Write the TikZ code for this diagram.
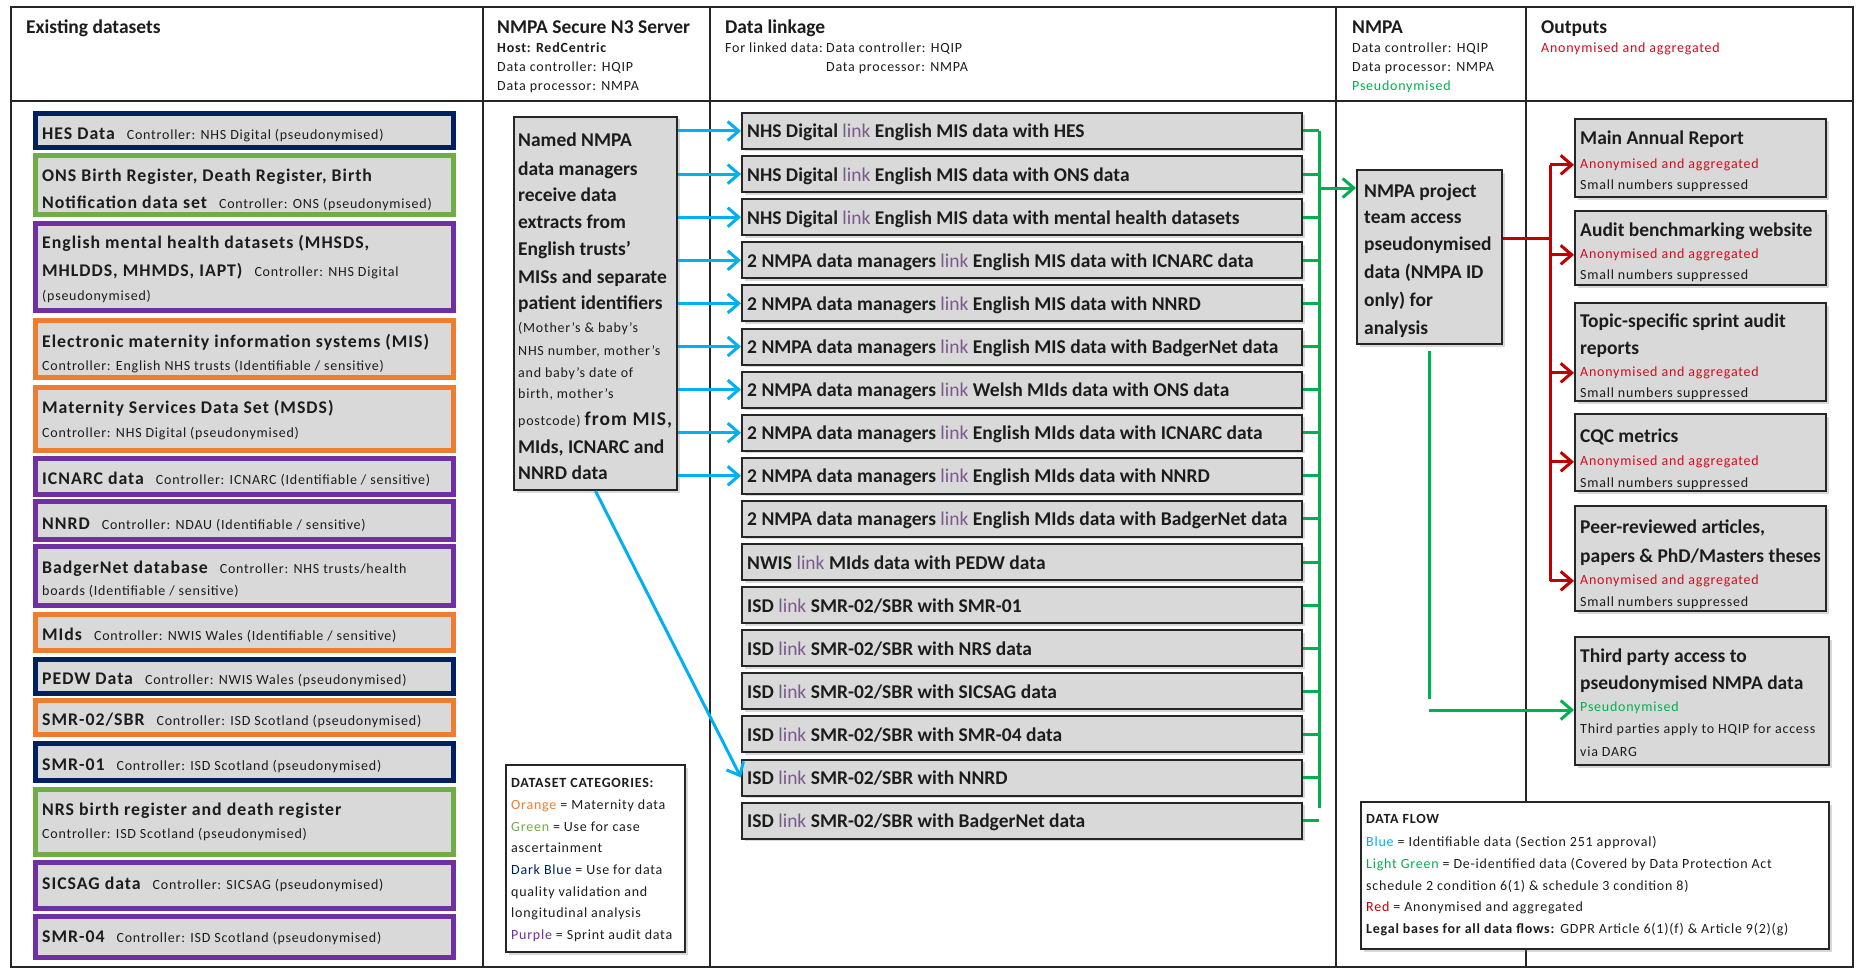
\documentclass[tikz,border=0pt]{standalone}
\usepackage{fontspec}
\setmainfont{Carlito}
\newfontfamily\smfam[LetterSpace=5.5]{Carlito}
\usetikzlibrary{arrows.meta,shadows,calc}
\definecolor{boxgrey}{HTML}{D9D9D9}
\definecolor{dsnavy}{HTML}{002060}
\definecolor{dsgreen}{HTML}{70AD47}
\definecolor{dspurple}{HTML}{7030A0}
\definecolor{dsorange}{HTML}{ED7D31}
\definecolor{flowblue}{HTML}{00B0F0}
\definecolor{flowgreen}{HTML}{00B050}
\definecolor{flowred}{HTML}{C00000}
\definecolor{outred}{HTML}{D40B1E}
\definecolor{txtc}{HTML}{1C1C1C}
\definecolor{linkc}{HTML}{7A5A8A}
\newcommand\fBig{\fontsize{19.5}{23}\selectfont}
\newcommand\fDs{\fontsize{17.8}{21}\selectfont}
\newcommand\fSm{\smfam\fontsize{14}{17}\selectfont}
\newcommand\TiT[1]{{\fDs\bfseries #1}}
\newcommand\BgT[1]{{\fBig\bfseries #1}}
\newcommand\SmT[1]{{\fSm #1}}
\newcommand\dsgap{\hspace{12pt}}
\newcommand\mylk{\textcolor{linkc}{\mdseries link}}
\newcommand\LinkBox[2]{%
  \node[gbox,minimum width=560pt,minimum height=36pt] (l#1) at (1022,{131+43.1*(#1-1)}) {};
  \node[bl] (l#1t) at ($(l#1.west)+(6,7)$) {#2};}
\begin{document}
\begin{tikzpicture}[x=1pt,y=-1pt,
  shd/.style={drop shadow={shadow xshift=2.5pt,shadow yshift=-2.5pt,opacity=0.3}},
  dsbox/.style={draw=#1,line width=5pt,fill=boxgrey,minimum width=418pt,inner sep=0pt,shd},
  gbox/.style={draw=black!85,line width=2pt,fill=boxgrey,inner sep=0pt,shd},
  wbox/.style={draw=black!85,line width=2pt,fill=white,inner sep=0pt,shd},
  ln/.style={anchor=base west,inner sep=0pt,text=txtc,font=\fSm},
  bl/.style={ln,font=\fBig\bfseries},
  frameline/.style={draw=black!85,line width=1.6pt},
  tipb/.style={-{Straight Barb[length=11pt,width=19pt]}},
  bluearr/.style={draw=flowblue,line width=3pt,tipb},
  greenln/.style={draw=flowgreen,line width=3pt},
  redln/.style={draw=flowred,line width=3pt}]
\fill[white] (0,0) rectangle (1863,971);
\useasboundingbox (0,0) rectangle (1863,971);
% frame
\draw[frameline] (11,7) rectangle (1853,967);
\draw[frameline] (11,101) -- (1853,101);
\foreach \xx in {483,710,1336,1526} \draw[frameline] (\xx,7) -- (\xx,967);
% headers
\node[bl] (h1) at (26,33.5) {Existing datasets};
\node[bl] (h2) at (497,33.5) {NMPA Secure N3 Server};
\node[ln] (h2a) at (497,52.5) {\bfseries Host: RedCentric};
\node[ln] (h2b) at (497,72) {Data controller: HQIP};
\node[ln] (h2c) at (497,91) {Data processor: NMPA};
\node[bl] (h3) at (725,33.5) {Data linkage};
\node[ln] (h3a) at (725,52.5) {For linked data:};
\node[ln] (h3c) at (826,52.5) {Data controller: HQIP};
\node[ln] (h3b) at (826,72) {Data processor: NMPA};
\node[bl] (h4) at (1352,33.5) {NMPA};
\node[ln] (h4a) at (1352,52.5) {Data controller: HQIP};
\node[ln] (h4b) at (1352,72) {Data processor: NMPA};
\node[ln,text=flowgreen] (h4c) at (1352,91) {Pseudonymised};
\node[bl] (h5) at (1541,33.5) {Outputs};
\node[ln,text=outred] (h5a) at (1541,52.5) {Anonymised and aggregated};
% dataset boxes
\node[dsbox=dsnavy,minimum height=34pt] (hes) at (244,130.5) {};
\node[dsbox=dsgreen,minimum height=59pt] (ons) at (244,185) {};
\node[dsbox=dspurple,minimum height=87pt] (emh) at (244,267) {};
\node[dsbox=dsorange,minimum height=57pt] (mis) at (244,349) {};
\node[dsbox=dsorange,minimum height=63pt] (msds) at (244,419) {};
\node[dsbox=dspurple,minimum height=36pt] (icn) at (244,476.5) {};
\node[dsbox=dspurple,minimum height=38pt] (nnrd) at (244,520.5) {};
\node[dsbox=dspurple,minimum height=59pt] (bdg) at (244,576) {};
\node[dsbox=dsorange,minimum height=36pt] (mids) at (244,632.5) {};
\node[dsbox=dsnavy,minimum height=34pt] (pedw) at (244,676.5) {};
\node[dsbox=dsorange,minimum height=34pt] (smr2) at (244,717.5) {};
\node[dsbox=dsnavy,minimum height=37pt] (smr1) at (244,762) {};
\node[dsbox=dsgreen,minimum height=65pt] (nrs) at (244,822) {};
\node[dsbox=dspurple,minimum height=46pt] (sics) at (244,885.5) {};
\node[dsbox=dspurple,minimum height=41pt] (smr4) at (244,937) {};
% dataset texts
\node[ln] (hes-t) at (42,139.5) {\TiT{HES Data}\dsgap\SmT{Controller: NHS Digital (pseudonymised)}};
\node[ln] (ons-t1) at (42,181.5) {\TiT{ONS Birth Register, Death Register, Birth}};
\node[ln] (ons-t2) at (42,208) {\TiT{Notification data set}\dsgap\SmT{Controller: ONS (pseudonymised)}};
\node[ln] (emh-t1) at (42,248.5) {\TiT{English mental health datasets (MHSDS,}};
\node[ln] (emh-t2) at (42,276.5) {\TiT{MHLDDS, MHMDS, IAPT)}\dsgap\SmT{Controller: NHS Digital}};
\node[ln] (emh-t3) at (42,300.5) {(pseudonymised)};
\node[ln] (mis-t1) at (42,347.5) {\TiT{Electronic maternity information systems (MIS)}};
\node[ln] (mis-t2) at (42,370.5) {Controller: English NHS trusts (Identifiable / sensitive)};
\node[ln] (msds-t1) at (42,413.5) {\TiT{Maternity Services Data Set (MSDS)}};
\node[ln] (msds-t2) at (42,437.5) {Controller: NHS Digital (pseudonymised)};
\node[ln] (icn-t) at (42,484.5) {\TiT{ICNARC data}\dsgap\SmT{Controller: ICNARC (Identifiable / sensitive)}};
\node[ln] (nnrd-t) at (42,529.5) {\TiT{NNRD}\dsgap\SmT{Controller: NDAU (Identifiable / sensitive)}};
\node[ln] (bdg-t1) at (42,573.5) {\TiT{BadgerNet database}\dsgap\SmT{Controller: NHS trusts/health}};
\node[ln] (bdg-t2) at (42,595.5) {boards (Identifiable / sensitive)};
\node[ln] (mids-t) at (42,640.5) {\TiT{MIds}\dsgap\SmT{Controller: NWIS Wales (Identifiable / sensitive)}};
\node[ln] (pedw-t) at (42,684.5) {\TiT{PEDW Data}\dsgap\SmT{Controller: NWIS Wales (pseudonymised)}};
\node[ln] (smr2-t) at (42,725.5) {\TiT{SMR-02/SBR}\dsgap\SmT{Controller: ISD Scotland (pseudonymised)}};
\node[ln] (smr1-t) at (42,770.5) {\TiT{SMR-01}\dsgap\SmT{Controller: ISD Scotland (pseudonymised)}};
\node[ln] (nrs-t1) at (42,815.5) {\TiT{NRS birth register and death register}};
\node[ln] (nrs-t2) at (42,838.5) {Controller: ISD Scotland (pseudonymised)};
\node[ln] (sics-t) at (42,889.5) {\TiT{SICSAG data}\dsgap\SmT{Controller: SICSAG (pseudonymised)}};
\node[ln] (smr4-t) at (42,942.5) {\TiT{SMR-04}\dsgap\SmT{Controller: ISD Scotland (pseudonymised)}};
% named NMPA data managers box
\node[gbox,minimum width=163pt,minimum height=373pt] (nm) at (595.5,303.5) {};
\node[bl] (nm1) at (518,146.5) {Named NMPA};
\node[bl] (nm2) at (518,175.5) {data managers};
\node[bl] (nm3) at (518,201.5) {receive data};
\node[bl] (nm4) at (518,228.5) {extracts from};
\node[bl] (nm5) at (518,255.5) {English trusts’};
\node[bl] (nm6) at (518,283.5) {MISs and separate};
\node[bl] (nm7) at (518,309.5) {patient identifiers};
\node[ln] (nm8) at (518,332) {(Mother’s \& baby’s};
\node[ln] (nm9) at (518,355) {NHS number, mother’s};
\node[ln] (nm10) at (518,377) {and baby’s date of};
\node[ln] (nm11) at (518,398) {birth, mother’s};
\node[ln] (nm12) at (518,425) {postcode)\ \BgT{from MIS,}};
\node[bl] (nm13) at (518,453) {MIds, ICNARC and};
\node[bl] (nm14) at (518,479) {NNRD data};
% linkage boxes
\LinkBox{1}{NHS Digital \mylk\ English MIS data with HES}
\LinkBox{2}{NHS Digital \mylk\ English MIS data with ONS data}
\LinkBox{3}{NHS Digital \mylk\ English MIS data with mental health datasets}
\LinkBox{4}{2 NMPA data managers \mylk\ English MIS data with ICNARC data}
\LinkBox{5}{2 NMPA data managers \mylk\ English MIS data with NNRD}
\LinkBox{6}{2 NMPA data managers \mylk\ English MIS data with BadgerNet data}
\LinkBox{7}{2 NMPA data managers \mylk\ Welsh MIds data with ONS data}
\LinkBox{8}{2 NMPA data managers \mylk\ English MIds data with ICNARC data}
\LinkBox{9}{2 NMPA data managers \mylk\ English MIds data with NNRD}
\LinkBox{10}{2 NMPA data managers \mylk\ English MIds data with BadgerNet data}
\LinkBox{11}{NWIS \mylk\ MIds data with PEDW data}
\LinkBox{12}{ISD \mylk\ SMR-02/SBR with SMR-01}
\LinkBox{13}{ISD \mylk\ SMR-02/SBR with NRS data}
\LinkBox{14}{ISD \mylk\ SMR-02/SBR with SICSAG data}
\LinkBox{15}{ISD \mylk\ SMR-02/SBR with SMR-04 data}
\LinkBox{16}{ISD \mylk\ SMR-02/SBR with NNRD}
\LinkBox{17}{ISD \mylk\ SMR-02/SBR with BadgerNet data}
% blue arrows
\foreach \i in {1,...,9} \draw[bluearr] (nm.east |- l\i.west) -- (l\i.west);
\draw[bluearr] (nm.south) -- (l16.west);
% NMPA project box
\node[gbox,minimum width=145pt,minimum height=174pt] (np) at (1429.5,257) {};
\node[bl] (np1) at (1364,197) {NMPA project};
\node[bl] (np2) at (1364,223) {team access};
\node[bl] (np3) at (1364,250) {pseudonymised};
\node[bl] (np4) at (1364,278) {data (NMPA ID};
\node[bl] (np5) at (1364,306) {only) for};
\node[bl] (np6) at (1364,334) {analysis};
% green collector
\coordinate (gvt) at (1319,131);
\coordinate (gvb) at (1319,808);
\coordinate (ga) at (1319,188);
\foreach \i in {1,...,16} \draw[greenln] (l\i.east) -- (l\i.east -| gvt);
\draw[greenln] (gvt) -- (gvb);
\draw[greenln] (l17.east) -- ++(16,0);
\draw[greenln,tipb] (ga) -- (np.west |- ga);
% outputs
\node[gbox,minimum width=251pt,minimum height=78pt] (o1) at (1700.5,158) {};
\node[gbox,minimum width=251pt,minimum height=74pt] (o2) at (1700.5,248) {};
\node[gbox,minimum width=251pt,minimum height=98pt] (o3) at (1700.5,352) {};
\node[gbox,minimum width=251pt,minimum height=77pt] (o4) at (1700.5,452.5) {};
\node[gbox,minimum width=251pt,minimum height=105pt] (o5) at (1700.5,558.5) {};
\node[gbox,minimum width=254pt,minimum height=128pt] (o6) at (1702,701) {};
\node[bl] (o1a) at (1580,144.5) {Main Annual Report};
\node[ln,text=outred] (o1r) at (1580,168.5) {Anonymised and aggregated};
\node[ln] (o1s) at (1580,189.5) {Small numbers suppressed};
\node[bl] (o2a) at (1580,236.5) {Audit benchmarking website};
\node[ln,text=outred] (o2r) at (1580,258.5) {Anonymised and aggregated};
\node[ln] (o2s) at (1580,279.5) {Small numbers suppressed};
\node[bl] (o3a) at (1580,327.5) {Topic-specific sprint audit};
\node[bl] (o3b) at (1580,354.5) {reports};
\node[ln,text=outred] (o3r) at (1580,376.5) {Anonymised and aggregated};
\node[ln] (o3s) at (1580,397.5) {Small numbers suppressed};
\node[bl] (o4a) at (1580,442.5) {CQC metrics};
\node[ln,text=outred] (o4r) at (1580,465.5) {Anonymised and aggregated};
\node[ln] (o4s) at (1580,487.5) {Small numbers suppressed};
\node[bl] (o5a) at (1580,533.5) {Peer-reviewed articles,};
\node[bl] (o5b) at (1580,562.5) {papers \& PhD/Masters theses};
\node[ln,text=outred] (o5r) at (1580,584.5) {Anonymised and aggregated};
\node[ln] (o5s) at (1580,606.5) {Small numbers suppressed};
\node[bl] (o6a) at (1580,662.5) {Third party access to};
\node[bl] (o6b) at (1580,689.5) {pseudonymised NMPA data};
\node[ln,text=flowgreen] (o6g) at (1580,711.5) {Pseudonymised};
\node[ln] (o6s) at (1580,733.5) {Third parties apply to HQIP for access};
\node[ln] (o6t) at (1580,756.5) {via DARG};
% red distribution
\coordinate (rv) at (1550,238);
\draw[redln] (np.east |- rv) -- (rv);
\draw[redln] (rv |- o1r.west) -- (rv |- o5r.west);
\foreach \o in {o1,o2,o3,o4,o5} \draw[redln,tipb] (rv |- \o r.west) -- (\o.west |- \o r.west);
% green to third party
\coordinate (gd1) at (1429,351);
\coordinate (gd2) at (1429,699);
\coordinate (gh) at (1429,710);
\draw[greenln] (gd1) -- (gd2);
\draw[greenln,tipb] (gh) -- (o6.west |- gh);
% dataset categories legend
\node[wbox,minimum width=179pt,minimum height=187pt] (dcat) at (595.5,858.5) {};
\node[ln] (dc1) at (511,787) {\bfseries DATASET CATEGORIES:};
\node[ln] (dc2) at (511,809) {\textcolor{dsorange}{Orange} = Maternity data};
\node[ln] (dc3) at (511,831) {\textcolor{dsgreen}{Green} = Use for case};
\node[ln] (dc4) at (511,852) {ascertainment};
\node[ln] (dc5) at (511,874) {\textcolor{dsnavy}{Dark Blue} = Use for data};
\node[ln] (dc6) at (511,896) {quality validation and};
\node[ln] (dc7) at (511,917) {longitudinal analysis};
\node[ln] (dc8) at (511,939) {\textcolor{dspurple}{Purple} = Sprint audit data};
% data flow legend
\node[wbox,minimum width=468pt,minimum height=147pt] (dflow) at (1595,875.5) {};
\node[ln] (df1) at (1366,823) {\bfseries DATA FLOW};
\node[ln] (df2) at (1366,846) {\textcolor{flowblue}{Blue} = Identifiable data (Section 251 approval)};
\node[ln] (df3) at (1366,868) {\textcolor{flowgreen}{Light Green} = De-identified data (Covered by Data Protection Act};
\node[ln] (df4) at (1366,890) {schedule 2 condition 6(1) \& schedule 3 condition 8)};
\node[ln] (df5) at (1366,911) {\textcolor{flowred}{Red} = Anonymised and aggregated};
\node[ln] (df6) at (1366,933) {\textbf{Legal bases for all data flows:} GDPR Article 6(1)(f) \& Article 9(2)(g)};
\end{tikzpicture}
\end{document}
